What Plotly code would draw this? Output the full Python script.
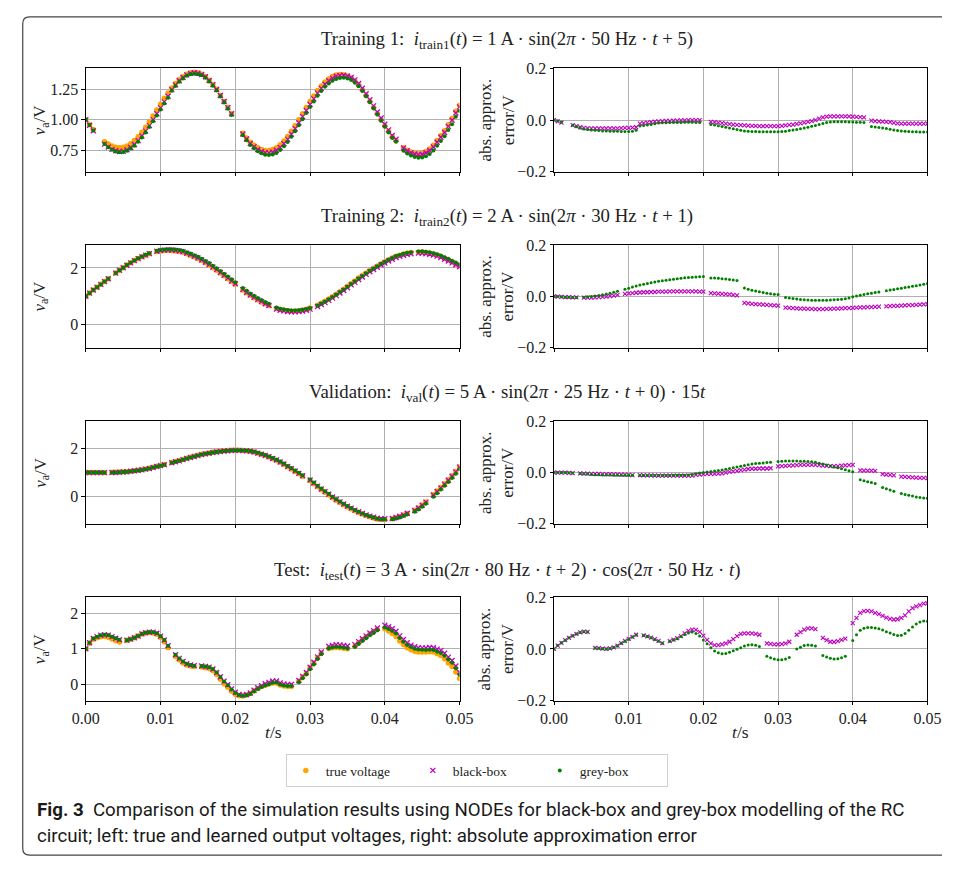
import numpy as np
import plotly.graph_objects as go

# ---------------- data (time in ms) ----------------
t_ms = [0, 0.5, 1, 1.5, 2, 2.5, 3, 3.5, 4, 4.5,
        5, 5.5, 6, 6.5, 7, 7.5, 8, 8.5, 9, 9.5,
        10, 10.5, 11, 11.5, 12, 12.5, 13, 13.5, 14, 14.5,
        15, 15.5, 16, 16.5, 17, 17.5, 18, 18.5, 19, 19.5,
        20, 20.5, 21, 21.5, 22, 22.5, 23, 23.5, 24, 24.5,
        25, 25.5, 26, 26.5, 27, 27.5, 28, 28.5, 29, 29.5,
        30, 30.5, 31, 31.5, 32, 32.5, 33, 33.5, 34, 34.5,
        35, 35.5, 36, 36.5, 37, 37.5, 38, 38.5, 39, 39.5,
        40, 40.5, 41, 41.5, 42, 42.5, 43, 43.5, 44, 44.5,
        45, 45.5, 46, 46.5, 47, 47.5, 48, 48.5, 49, 49.5,
        50]

# Training 1
v_train1 = [1.00, 0.96, 0.92, None, None, 0.82, 0.80, 0.785, 0.775, 0.77,
            0.774, 0.785, 0.804, 0.829, 0.861, 0.898, 0.939, 0.984, 1.032, 1.08,
            1.128, 1.176, 1.221, 1.262, 1.299, 1.331, 1.356, 1.375, 1.386, 1.39,
            1.386, 1.375, 1.356, 1.325, 1.29, 1.25, 1.20, 1.15, 1.10, 1.05,
            None, None, 0.89, 0.85, 0.815, 0.79, 0.77, 0.755, 0.747, 0.747,
            0.755, 0.77, 0.795, 0.826, 0.862, 0.905, 0.95, 1.00, 1.05, 1.10,
            1.15, 1.195, 1.24, 1.277, 1.31, 1.335, 1.355, 1.367, 1.372, 1.37,
            1.36, 1.343, 1.318, 1.285, 1.245, 1.20, 1.15, 1.10, 1.05, 1.00,
            0.95, 0.905, 0.86, 0.83, None, 0.77, 0.75, 0.735, 0.725, 0.72,
            0.725, 0.74, 0.76, 0.79, 0.83, 0.87, 0.91, 0.96, 1.01, 1.07,
            1.12]
err_bb_train1 = [0.0, -0.005, -0.01, None, None, -0.02, -0.024, -0.028, -0.03, -0.031,
                 -0.032, -0.032, -0.032, -0.032, -0.032, -0.032, -0.032, -0.032, -0.031, -0.03,
                 -0.03, -0.029, -0.028, -0.014, -0.012, -0.01, -0.008, -0.006, -0.005, -0.004,
                 -0.003, -0.003, -0.002, -0.002, -0.001, -0.001, 0.0, 0.0, 0.0, 0.0,
                 None, None, -0.007, -0.008, -0.01, -0.012, -0.014, -0.016, -0.018, -0.019,
                 -0.02, -0.021, -0.022, -0.023, -0.023, -0.024, -0.024, -0.024, -0.024, -0.024,
                 -0.024, -0.023, -0.021, -0.019, -0.018, -0.015, -0.013, -0.01, -0.007, -0.004,
                 0.0, 0.005, 0.01, 0.013, 0.014, 0.014, 0.014, 0.014, 0.014, 0.014,
                 0.013, 0.012, 0.011, 0.01, None, -0.002, -0.004, -0.005, -0.006, -0.007,
                 -0.008, -0.011, -0.013, -0.014, -0.014, -0.014, -0.014, -0.014, -0.014, -0.014,
                 -0.014]
err_gb_train1 = [0.0, -0.003, -0.008, None, None, -0.02, -0.026, -0.031, -0.035, -0.037,
                 -0.039, -0.04, -0.041, -0.042, -0.042, -0.043, -0.043, -0.043, -0.044, -0.044,
                 -0.044, -0.043, -0.04, -0.023, -0.021, -0.019, -0.017, -0.014, -0.012, -0.011,
                 -0.011, -0.01, -0.01, -0.01, -0.01, -0.009, -0.009, -0.009, -0.01, -0.01,
                 None, None, -0.017, -0.019, -0.022, -0.025, -0.028, -0.031, -0.034, -0.037,
                 -0.04, -0.042, -0.043, -0.044, -0.044, -0.045, -0.045, -0.045, -0.045, -0.045,
                 -0.045, -0.044, -0.043, -0.041, -0.039, -0.037, -0.034, -0.031, -0.028, -0.024,
                 -0.021, -0.017, -0.013, -0.01, -0.008, -0.007, -0.007, -0.007, -0.007, -0.008,
                 -0.008, -0.009, -0.009, -0.01, None, -0.025, -0.027, -0.029, -0.031, -0.033,
                 -0.036, -0.039, -0.041, -0.042, -0.043, -0.044, -0.045, -0.045, -0.046, -0.046,
                 -0.046]

# Training 2
v_train2 = [1.00, 1.11, 1.22, 1.32, 1.42, 1.52, 1.62, None, 1.82, 1.92,
            2.01, 2.10, 2.18, 2.26, 2.33, 2.39, 2.45, 2.50, None, 2.58,
            2.60, 2.615, 2.62, 2.615, 2.60, 2.58, 2.55, 2.50, 2.45, 2.39,
            2.33, 2.26, 2.18, 2.10, 2.01, 1.92, 1.82, 1.72, 1.62, 1.52,
            1.42, None, 1.22, 1.12, 1.03, 0.95, 0.87, 0.80, 0.73, 0.67,
            None, 0.57, 0.53, 0.51, 0.49, 0.48, 0.48, 0.49, 0.51, 0.54,
            0.58, None, 0.68, 0.75, 0.82, 0.90, 0.98, 1.07, 1.16, 1.25,
            1.35, 1.45, 1.54, 1.64, 1.73, 1.82, 1.91, 1.99, 2.07, 2.15,
            2.22, 2.29, 2.35, 2.41, 2.45, 2.49, 2.52, 2.54, None, 2.56,
            2.56, 2.54, 2.52, 2.49, 2.45, 2.40, 2.34, 2.28, 2.21, 2.14,
            2.07]
err_bb_train2 = [0.0, -0.001, -0.002, -0.003, -0.003, -0.004, -0.004, None, -0.005, -0.005,
                 -0.005, -0.004, -0.003, -0.002, -0.001, 0.001, 0.003, 0.006, None, 0.01,
                 0.012, 0.013, 0.014, 0.015, 0.016, 0.016, 0.017, 0.017, 0.018, 0.018,
                 0.018, 0.019, 0.019, 0.019, 0.019, 0.019, 0.019, 0.019, 0.019, 0.018,
                 0.018, None, 0.013, 0.012, 0.011, 0.01, 0.009, 0.008, 0.006, 0.004,
                 None, -0.025, -0.027, -0.029, -0.03, -0.031, -0.032, -0.033, -0.034, -0.035,
                 -0.036, None, -0.044, -0.045, -0.046, -0.047, -0.048, -0.048, -0.049, -0.049,
                 -0.05, -0.05, -0.05, -0.049, -0.049, -0.048, -0.048, -0.047, -0.046, -0.046,
                 -0.045, -0.044, -0.043, -0.043, -0.042, -0.042, -0.041, -0.04, None, -0.039,
                 -0.038, -0.037, -0.037, -0.036, -0.035, -0.034, -0.034, -0.033, -0.032, -0.031,
                 -0.03]
err_gb_train2 = [0.0, -0.001, -0.002, -0.003, -0.003, -0.004, -0.004, None, -0.003, -0.002,
                 -0.001, 0.001, 0.003, 0.006, 0.009, 0.012, 0.016, 0.02, None, 0.028,
                 0.032, 0.036, 0.04, 0.044, 0.047, 0.05, 0.053, 0.056, 0.059, 0.061,
                 0.063, 0.065, 0.067, 0.069, 0.07, 0.072, 0.073, 0.074, 0.075, 0.076,
                 0.077, None, 0.071, 0.071, 0.07, 0.069, 0.068, 0.066, 0.064, 0.062,
                 None, 0.033, 0.028, 0.024, 0.021, 0.018, 0.015, 0.012, 0.01, 0.008,
                 0.007, None, -0.004, -0.006, -0.008, -0.01, -0.012, -0.013, -0.014, -0.015,
                 -0.015, -0.015, -0.015, -0.015, -0.014, -0.013, -0.012, -0.011, -0.009, -0.006,
                 -0.002, 0.001, 0.004, 0.007, 0.01, 0.012, 0.015, 0.017, None, 0.022,
                 0.025, 0.027, 0.03, 0.032, 0.034, 0.036, 0.039, 0.041, 0.044, 0.047,
                 0.05]

# Validation
v_val = [1.00, 1.00, 1.00, 1.00, 1.00, 1.00, None, 1.01, 1.01, 1.02,
         1.03, 1.04, 1.06, 1.08, 1.10, 1.12, 1.15, 1.18, 1.22, 1.26,
         1.30, 1.34, None, 1.42, 1.46, 1.50, 1.55, 1.60, 1.64, 1.68,
         1.72, 1.76, 1.79, 1.82, 1.85, 1.87, 1.89, 1.91, 1.92, 1.93,
         1.93, 1.93, 1.92, 1.91, 1.89, 1.86, 1.81, 1.76, 1.71, 1.65,
         1.58, 1.51, 1.43, 1.34, 1.24, 1.15, 1.05, 0.95, 0.85, None,
         0.67, 0.54, 0.41, 0.29, 0.18, 0.07, -0.05, -0.15, -0.25, -0.34,
         -0.43, -0.51, -0.59, -0.66, -0.73, -0.79, -0.84, -0.89, -0.93, -0.95,
         -0.95, None, -0.92, -0.88, -0.83, -0.77, -0.70, None, -0.57, -0.47,
         -0.35, -0.22, None, 0.08, 0.23, 0.38, 0.54, 0.70, 0.87, 1.05,
         1.25]
err_bb_val = [0.0, 0.0, 0.0, 0.0, -0.001, -0.002, None, -0.003, -0.004, -0.004,
              -0.005, -0.005, -0.005, -0.006, -0.006, -0.006, -0.007, -0.007, -0.008, -0.008,
              -0.009, -0.01, None, -0.01, -0.011, -0.011, -0.011, -0.012, -0.012, -0.012,
              -0.012, -0.012, -0.012, -0.012, -0.012, -0.012, -0.012, -0.012, -0.009, -0.008,
              -0.006, -0.005, -0.005, -0.005, -0.004, -0.003, 0.0, 0.003, 0.005, 0.007,
              0.01, 0.012, 0.014, 0.015, 0.015, 0.016, 0.016, 0.016, 0.017, None,
              0.024, 0.025, 0.026, 0.027, 0.028, 0.029, 0.03, 0.03, 0.03, 0.03,
              0.03, 0.029, 0.027, 0.026, 0.025, 0.025, 0.025, 0.027, 0.028, 0.029,
              0.03, None, 0.009, 0.008, 0.008, 0.008, 0.007, None, -0.006, -0.008,
              -0.009, -0.011, None, -0.016, -0.017, -0.018, -0.019, -0.02, -0.021, -0.021,
              -0.022]
err_gb_val = [0.0, 0.0, 0.0, 0.0, -0.001, -0.002, None, -0.004, -0.005, -0.006,
              -0.007, -0.008, -0.008, -0.009, -0.009, -0.009, -0.01, -0.01, -0.01, -0.01,
              -0.01, -0.01, None, -0.011, -0.011, -0.011, -0.011, -0.011, -0.011, -0.011,
              -0.011, -0.011, -0.01, -0.01, -0.01, -0.01, -0.009, -0.007, -0.005, -0.002,
              0.0, 0.002, 0.004, 0.006, 0.008, 0.01, 0.013, 0.016, 0.019, 0.022,
              0.025, 0.028, 0.031, 0.034, 0.036, 0.037, 0.038, 0.039, 0.04, None,
              0.043, 0.044, 0.045, 0.045, 0.045, 0.045, 0.044, 0.044, 0.043, 0.042,
              0.04, 0.037, 0.034, 0.03, 0.026, 0.022, 0.019, 0.015, 0.011, 0.007,
              0.003, None, -0.028, -0.032, -0.036, -0.039, -0.043, None, -0.058, -0.063,
              -0.068, -0.073, None, -0.082, -0.086, -0.089, -0.092, -0.095, -0.097, -0.099,
              -0.1]

# Test
v_test = [1.00, 1.16, 1.27, 1.31, 1.34, 1.35, 1.33, 1.28, 1.23, 1.19,
          None, 1.24, 1.27, 1.31, 1.36, 1.42, 1.45, 1.46, 1.45, 1.41,
          1.32, 1.20, 1.03, None, 0.78, 0.68, 0.60, 0.54, 0.51, 0.50,
          None, 0.485, 0.465, 0.44, 0.38, 0.27, 0.14, 0.01, -0.09, -0.20,
          -0.285, -0.33, -0.335, -0.31, -0.265, -0.19, -0.125, -0.07, -0.03, 0.0,
          0.03, 0.03, -0.025, -0.056, -0.07, -0.065, None, 0.08, 0.20, 0.31,
          0.46, 0.60, 0.75, 0.88, None, 1.01, 1.03, 1.04, 1.03, 1.015,
          1.0, None, 1.075, 1.17, 1.256, 1.34, 1.42, 1.48, 1.55, None,
          1.57, 1.505, 1.43, 1.35, 1.22, 1.12, 1.03, 0.97, 0.93, 0.91,
          0.91, 0.91, 0.92, 0.91, 0.86, 0.81, 0.715, 0.60, 0.50, 0.34,
          0.16]
err_bb_test = [0.0, 0.013, 0.024, 0.034, 0.043, 0.051, 0.058, 0.064, 0.067, 0.066,
               None, 0.004, 0.003, 0.001, 0.0, 0.002, 0.006, 0.013, 0.023, 0.031,
               0.039, 0.047, 0.055, None, 0.053, 0.049, 0.044, 0.038, 0.031, 0.023,
               None, 0.03, 0.036, 0.042, 0.05, 0.06, 0.07, 0.075, 0.074, 0.066,
               0.052, 0.035, 0.022, 0.015, 0.015, 0.018, 0.022, 0.028, 0.038, 0.05,
               0.058, 0.06, 0.06, 0.06, 0.058, 0.055, None, 0.022, 0.02, 0.018,
               0.018, 0.019, 0.022, 0.028, None, 0.055, 0.065, 0.075, 0.08, 0.08,
               0.077, None, 0.043, 0.034, 0.028, 0.027, 0.03, 0.035, 0.04, None,
               0.10, 0.12, 0.14, 0.146, 0.147, 0.145, 0.14, 0.135, 0.128, 0.121,
               0.116, 0.114, 0.115, 0.12, 0.13, 0.145, 0.158, 0.165, 0.17, 0.175,
               0.177]
err_gb_test = [0.0, 0.013, 0.024, 0.034, 0.043, 0.051, 0.058, 0.064, 0.067, 0.066,
               None, 0.004, 0.003, 0.001, 0.0, 0.002, 0.006, 0.012, 0.022, 0.03,
               0.038, 0.046, 0.054, None, 0.052, 0.048, 0.043, 0.037, 0.03, 0.022,
               None, 0.03, 0.035, 0.04, 0.048, 0.056, 0.062, 0.066, 0.06, 0.05,
               0.035, 0.02, 0.005, -0.008, -0.015, -0.018, -0.017, -0.013, -0.007, -0.001,
               0.005, 0.012, 0.015, 0.016, 0.014, 0.01, None, -0.028, -0.034, -0.039,
               -0.042, -0.042, -0.039, -0.033, None, 0.0, 0.007, 0.013, 0.015, 0.014,
               0.012, None, -0.025, -0.031, -0.036, -0.039, -0.038, -0.034, -0.028, None,
               0.033, 0.055, 0.072, 0.08, 0.083, 0.083, 0.081, 0.078, 0.073, 0.067,
               0.062, 0.056, 0.052, 0.053, 0.06, 0.072, 0.085, 0.097, 0.104, 0.108,
               0.107]

row_titles = [
    "Training 1:  <i>i</i><sub>train1</sub>(<i>t</i>) = 1 A · sin(2<i>π</i> · 50 Hz · <i>t</i> + 5)",
    "Training 2:  <i>i</i><sub>train2</sub>(<i>t</i>) = 2 A · sin(2<i>π</i> · 30 Hz · <i>t</i> + 1)",
    "Validation:  <i>i</i><sub>val</sub>(<i>t</i>) = 5 A · sin(2<i>π</i> · 25 Hz · <i>t</i> + 0) · 15<i>t</i>",
    "Test:  <i>i</i><sub>test</sub>(<i>t</i>) = 3 A · sin(2<i>π</i> · 80 Hz · <i>t</i> + 2) · cos(2<i>π</i> · 50 Hz · <i>t</i>)",
]
x_tickvals = [0.0, 0.01, 0.02, 0.03, 0.04, 0.05]
x_ticktext = ["0.00", "0.01", "0.02", "0.03", "0.04", "0.05"]
left_tickvals = [[0.75, 1.0, 1.25], [0, 2], [0, 2], [0, 1, 2]]
left_ticktext = [["0.75", "1.00", "1.25"], ["0", "2"], ["0", "2"], ["0", "1", "2"]]
right_tickvals = [-0.2, 0.0, 0.2]
right_ticktext = ["\u22120.2", "0.0", "0.2"]
series_names = ["true voltage", "black-box", "grey-box"]

rows = [
    (v_train1, err_bb_train1, err_gb_train1),
    (v_train2, err_bb_train2, err_gb_train2),
    (v_val, err_bb_val, err_gb_val),
    (v_test, err_bb_test, err_gb_test),
]

# ---------------- layout geometry ----------------
W, H = 956, 870
SERIF = "Liberation Serif, DejaVu Serif, serif"
C_TRUE, C_BB, C_GB = "#FFA500", "#BF00BF", "#008000"


def px(x):
    return x / W


def py(y):
    return 1 - y / H


def arr(lst):
    return np.array([np.nan if v is None else v for v in lst], dtype=float)


def clean(a):
    return [None if np.isnan(v) else round(float(v), 4) for v in a]


t_s = np.array(t_ms, dtype=float) / 1000.0

left_dom = [px(74), px(459)]
right_dom = [px(556.3), px(941)]
row_px = [(61.5, 167), (241.7, 346.5), (421.7, 526), (601, 706.5)]
left_ranges = [[0.573, 1.423], [-0.82, 2.81], [-1.13, 3.13], [-0.47, 2.46]]
title_y = [33, 213, 393, 574]

fig = go.Figure()
layout = {}
annotations = []

axis_common = dict(
    showgrid=True, gridcolor="#b0b0b0", gridwidth=0.8,
    showline=True, mirror=True, linecolor="black", linewidth=1,
    ticks="outside", ticklen=3.5, tickwidth=0.8, tickcolor="black",
    zeroline=False, tickfont=dict(family=SERIF, size=16, color="#222"),
)

for r, (v, eb, eg) in enumerate(rows):
    true = arr(v)
    e_b = arr(eb)
    e_g = arr(eg)
    bb = true + e_b
    gb = true + e_g
    il, ir = 2 * r + 1, 2 * r + 2
    xl = "x" if il == 1 else f"x{il}"
    yl = "y" if il == 1 else f"y{il}"
    xr, yr = f"x{ir}", f"y{ir}"
    show = r == 0

    fig.add_trace(go.Scatter(x=t_s, y=clean(true), mode="markers", name=series_names[0],
                             legendgroup="t", showlegend=show, xaxis=xl, yaxis=yl,
                             marker=dict(symbol="circle", size=5.5, color=C_TRUE)))
    fig.add_trace(go.Scatter(x=t_s, y=clean(bb), mode="markers", name=series_names[1],
                             legendgroup="b", showlegend=show, xaxis=xl, yaxis=yl,
                             marker=dict(symbol="x-thin", size=5, color=C_BB,
                                         line=dict(color=C_BB, width=1.3))))
    fig.add_trace(go.Scatter(x=t_s, y=clean(gb), mode="markers", name=series_names[2],
                             legendgroup="g", showlegend=show, xaxis=xl, yaxis=yl,
                             marker=dict(symbol="circle", size=4, color=C_GB)))
    fig.add_trace(go.Scatter(x=t_s, y=clean(e_b), mode="markers", name=series_names[1],
                             legendgroup="b", showlegend=False, xaxis=xr, yaxis=yr,
                             marker=dict(symbol="x-thin", size=4, color=C_BB,
                                         line=dict(color=C_BB, width=1.1))))
    fig.add_trace(go.Scatter(x=t_s, y=clean(e_g), mode="markers", name=series_names[2],
                             legendgroup="g", showlegend=False, xaxis=xr, yaxis=yr,
                             marker=dict(symbol="circle", size=3, color=C_GB)))

    top, bot = row_px[r]
    ydom = [py(bot), py(top)]
    bottom_row = r == 3
    for idx, dom in ((il, left_dom), (ir, right_dom)):
        xname = "xaxis" if idx == 1 else f"xaxis{idx}"
        yname = "yaxis" if idx == 1 else f"yaxis{idx}"
        layout[xname] = dict(axis_common, domain=dom, range=[0, 0.05],
                             anchor="y" if idx == 1 else f"y{idx}",
                             tickvals=x_tickvals, ticktext=x_ticktext,
                             showticklabels=bottom_row)
        if idx == il:
            layout[yname] = dict(axis_common, domain=ydom, range=left_ranges[r],
                                 anchor="x" if idx == 1 else f"x{idx}",
                                 tickvals=left_tickvals[r], ticktext=left_ticktext[r])
        else:
            layout[yname] = dict(axis_common, domain=ydom, range=[-0.2, 0.2],
                                 anchor=f"x{idx}",
                                 tickvals=right_tickvals, ticktext=right_ticktext)

    yc = (top + bot) / 2
    annotations.append(dict(text="<i>v</i><sub>a</sub>/V", x=px(28), y=py(yc),
                            xref="paper", yref="paper", showarrow=False, textangle=-90,
                            xanchor="center", yanchor="middle",
                            font=dict(family=SERIF, size=17, color="#222")))
    annotations.append(dict(text="abs. approx.<br>error/V", x=px(497), y=py(yc),
                            xref="paper", yref="paper", showarrow=False, textangle=-90,
                            xanchor="center", yanchor="middle",
                            font=dict(family=SERIF, size=17, color="#222")))
    annotations.append(dict(text=row_titles[r], x=px(508), y=py(title_y[r]),
                            xref="paper", yref="paper", showarrow=False,
                            xanchor="center", yanchor="middle",
                            font=dict(family=SERIF, size=18.8, color="#222")))

for xc in (267.5, 748):
    annotations.append(dict(text="<i>t</i>/s", x=px(xc), y=py(738.5), xref="paper", yref="paper",
                            showarrow=False, xanchor="center", yanchor="middle",
                            font=dict(family=SERIF, size=17.5, color="#222")))

CAP = "Roboto, Noto Sans, sans-serif"
annotations.append(dict(
    text="<b>Fig. 3</b>  Comparison of the simulation results using NODEs for black-box and grey-box modelling of the RC",
    x=px(22), y=py(818), xref="paper", yref="paper", showarrow=False,
    xanchor="left", yanchor="middle", font=dict(family=CAP, size=18.7, color="#1a1a1a")))
annotations.append(dict(
    text="circuit; left: true and learned output voltages, right: absolute approximation error",
    x=px(22), y=py(845), xref="paper", yref="paper", showarrow=False,
    xanchor="left", yanchor="middle", font=dict(family=CAP, size=18.7, color="#1a1a1a")))


# outer rounded frame (its right side lies outside the picture)
def P(x, y):
    return f"{px(x):.5f},{py(y):.5f}"


frame_path = (f"M {P(956, 9)} L {P(16, 9)} Q {P(9, 9)} {P(9, 16)} "
              f"L {P(9, 857)} Q {P(9, 864)} {P(16, 864)} L {P(956, 864)}")

fig.update_layout(
    width=W, height=H, autosize=False,
    margin=dict(l=0, r=0, t=0, b=0),
    paper_bgcolor="white", plot_bgcolor="white",
    showlegend=True,
    legend=dict(orientation="h", x=px(280), y=py(761), xanchor="left", yanchor="top",
                bordercolor="#d0d0d0", borderwidth=1, bgcolor="white",
                font=dict(family=SERIF, size=13.5, color="#222"),
                entrywidth=82, entrywidthmode="pixels", tracegroupgap=0),
    annotations=annotations,
    shapes=[dict(type="path", path=frame_path, xref="paper", yref="paper",
                 line=dict(color="#444", width=1.2))],
    **layout,
)

fig.write_html("out.html", config={"displayModeBar": False},
               post_script="document.body.style.margin='0';")
